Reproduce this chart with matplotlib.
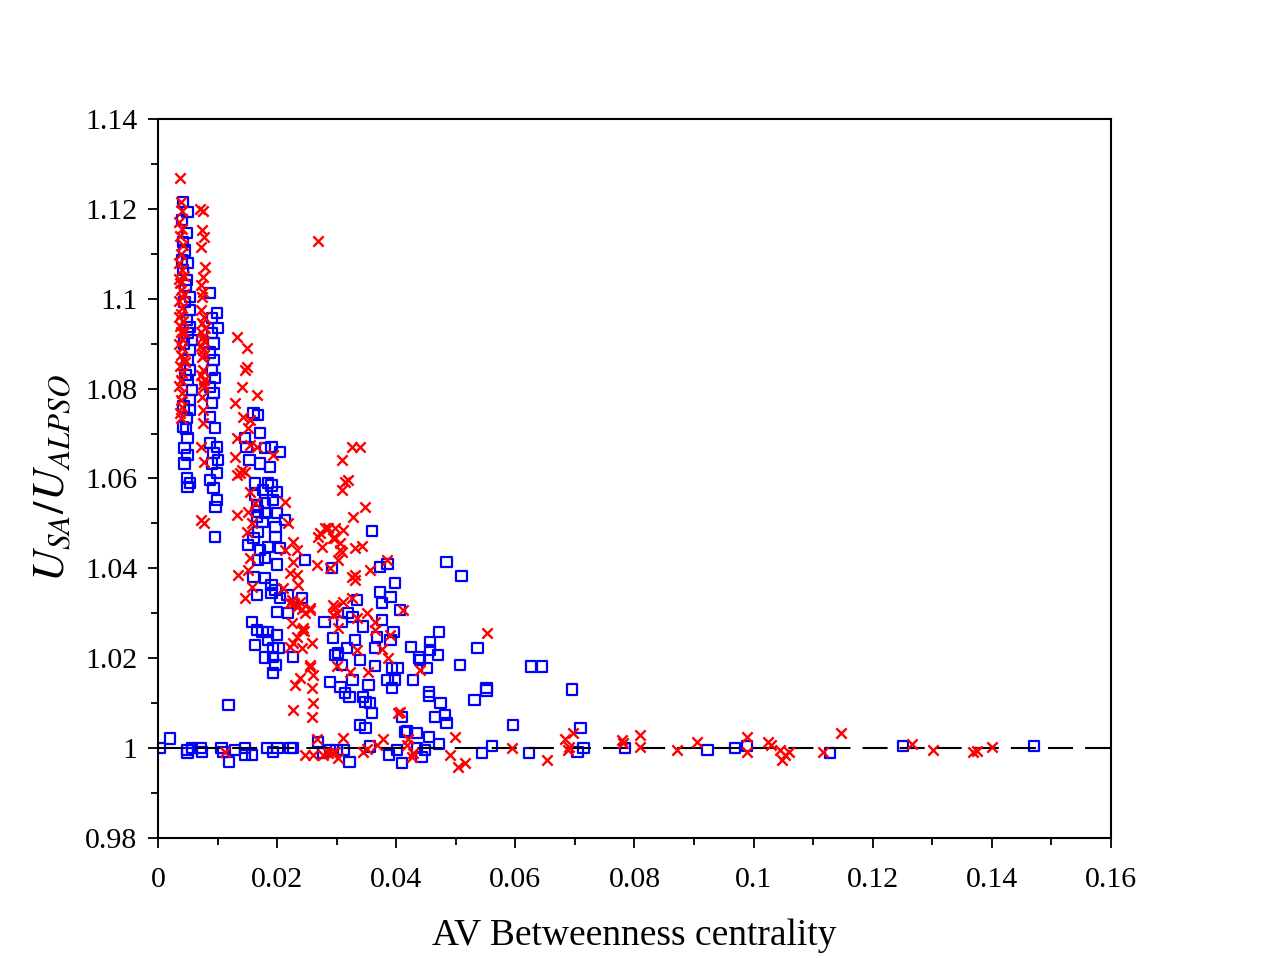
import numpy as np
import matplotlib
matplotlib.use('Agg')
import matplotlib.pyplot as plt
from matplotlib.ticker import MultipleLocator, FuncFormatter

plt.rcParams['font.family'] = ['Liberation Serif', 'DejaVu Serif']
plt.rcParams['mathtext.fontset'] = 'stix'

# red crosses (x = AV betweenness, y = U_SA/U_ALPSO)
red_col_a = [(0.0037,1.1268),(0.0038,1.1215),(0.0041,1.1195),(0.0036,1.1170),(0.0040,1.1155),(0.0037,1.1140),
             (0.0042,1.1120),(0.0038,1.1100),(0.0036,1.1080),(0.0040,1.1065),(0.0043,1.1050),(0.0035,1.1045),
             (0.0037,1.1035),(0.0039,1.1020),(0.0044,1.1010),(0.0041,1.1005),(0.0036,1.0995),(0.0040,1.0980),
             (0.0038,1.0965),(0.0035,1.0960),(0.0042,1.0950),(0.0037,1.0940),(0.0044,1.0925),(0.0039,1.0925),
             (0.0041,1.0910),(0.0036,1.0900),(0.0040,1.0890),(0.0038,1.0875),(0.0043,1.0865),(0.0045,1.0860),
             (0.0037,1.0850),(0.0040,1.0835),(0.0039,1.0820),(0.0036,1.0805),(0.0041,1.0790),(0.0038,1.0775),
             (0.0040,1.0760),(0.0037,1.0745),(0.0039,1.0735)]
red_col_b = [(0.0071,1.1200),(0.0076,1.1195),(0.0074,1.1153),(0.0077,1.1138),(0.0073,1.1115),(0.0079,1.1071),
             (0.0075,1.1048),(0.0073,1.1031),(0.0076,1.1015),(0.0074,1.1005),(0.0072,1.0975),(0.0077,1.0960),
             (0.0074,1.0945),(0.0079,1.0935),(0.0073,1.0925),(0.0076,1.0915),(0.0078,1.0905),(0.0072,1.0895),
             (0.0075,1.0885),(0.0077,1.0875),(0.0074,1.0870),(0.0076,1.0841),(0.0073,1.0830),(0.0078,1.0820),
             (0.0075,1.0810),(0.0077,1.0803),(0.0074,1.0781),(0.0076,1.0752),(0.0075,1.0723),(0.0073,1.0670),
             (0.0078,1.0637),(0.0072,1.0508),(0.0077,1.0502)]
red_col_c = [(0.0133,1.0915),(0.0149,1.0890),(0.0149,1.0848),(0.0146,1.0841),(0.0141,1.0804),(0.0166,1.0786),
             (0.0129,1.0768),(0.0143,1.0737),(0.0154,1.0730),(0.0151,1.0712),(0.0133,1.0690),(0.0154,1.0674),
             (0.0166,1.0670),(0.0129,1.0648),(0.0141,1.0619),(0.0133,1.0608),(0.0146,1.0614),(0.0138,1.0612),
             (0.0154,1.0570),(0.0163,1.0545),(0.0133,1.0519),(0.0151,1.0526),(0.0149,1.0481),(0.0158,1.0501),
             (0.0154,1.0423),(0.0134,1.0385),(0.0151,1.0396),(0.0158,1.0359),(0.0146,1.0334)]
red_col_d = [(0.0269,1.1128),(0.0193,1.0652),(0.0213,1.0548),(0.0218,1.0501),(0.0227,1.0459),(0.0213,1.0441),
             (0.0233,1.0441),(0.0227,1.0414),(0.0222,1.0390),(0.0233,1.0385),(0.0210,1.0356),(0.0235,1.0363),
             (0.0225,1.0329),(0.0229,1.0322),(0.0233,1.0315),(0.0238,1.0325),(0.0242,1.0310),(0.0247,1.0300),
             (0.0255,1.0312),(0.0222,1.0323),(0.0225,1.0278),(0.0243,1.0267),(0.0245,1.0260),(0.0233,1.0247),
             (0.0227,1.0234),(0.0259,1.0234),(0.0222,1.0225),(0.0242,1.0223),(0.0255,1.0181),(0.0260,1.0163),
             (0.0238,1.0156),(0.0230,1.0140),(0.0259,1.0134),(0.0260,1.0100),(0.0227,1.0085),(0.0259,1.0069),
             (0.0242,1.0263),(0.0255,1.0307),(0.0255,1.0185)]
red_col_e = [(0.0272,1.0479),(0.0280,1.0490),(0.0297,1.0490),(0.0275,1.0448),(0.0297,1.0468),(0.0306,1.0441),
             (0.0302,1.0419),(0.0267,1.0408),(0.0289,1.0401),(0.0309,1.0641),(0.0309,1.0574),(0.0326,1.0670),
             (0.0339,1.0670),(0.0319,1.0597),(0.0314,1.0592),(0.0348,1.0537),(0.0327,1.0514),(0.0285,1.0490),
             (0.0311,1.0485),(0.0269,1.0470),(0.0294,1.0468),(0.0306,1.0456),(0.0331,1.0445),(0.0343,1.0450),
             (0.0309,1.0436),(0.0385,1.0419),(0.0331,1.0385),(0.0331,1.0374),(0.0326,1.0380),(0.0356,1.0396),
             (0.0297,1.0314),(0.0311,1.0325),(0.0326,1.0334),(0.0294,1.0296),(0.0351,1.0301),(0.0302,1.0267),
             (0.0334,1.0290),(0.0364,1.0281),(0.0364,1.0263),(0.0411,1.0307),(0.0390,1.0252),(0.0334,1.0218),
             (0.0376,1.0221),(0.0386,1.0201),(0.0301,1.0183),(0.0322,1.0169),(0.0353,1.0169),(0.0440,1.0174),
             (0.0403,1.0078),(0.0552,1.0256),(0.0294,1.0318),(0.0301,1.0301)]
red_base = [(0.0113,0.9991),(0.0267,1.0021),(0.0247,0.9985),(0.0260,0.9985),(0.0277,0.9985),(0.0285,0.9989),
            (0.0292,0.9989),(0.0297,0.9991),(0.0302,0.9978),(0.0311,1.0022),(0.0344,0.9991),(0.0351,0.9998),
            (0.0368,1.0007),(0.0378,1.0021),(0.0418,1.0007),(0.0406,1.0080),(0.0499,1.0025),(0.0420,1.0021),
            (0.0490,0.9985),(0.0428,0.9989),(0.0427,0.9980),(0.0516,0.9967),(0.0504,0.9958),(0.0594,1.0000),
            (0.0653,0.9974),(0.0684,1.0021),(0.0697,1.0034),(0.0688,0.9996),(0.0690,1.0003),(0.0779,1.0018),
            (0.0781,1.0012),(0.0809,1.0029),(0.0809,1.0003),(0.0871,0.9996),(0.0905,1.0014),(0.0989,1.0025),
            (0.0989,0.9991),(0.1025,1.0014),(0.1030,1.0007),(0.1045,0.9996),(0.1052,0.9985),(0.1048,0.9974),
            (0.1060,0.9991),(0.1117,0.9991),(0.1147,1.0034),(0.1266,1.0009),(0.1302,0.9996),(0.1369,0.9991),
            (0.1375,0.9993),(0.1400,1.0003)]

# blue squares
blue_col_a = [(0.0042,1.1215),(0.0050,1.1193),(0.0040,1.1175),(0.0049,1.1146),(0.0042,1.1126),(0.0045,1.1108),
              (0.0040,1.1086),(0.0050,1.1080),(0.0042,1.1064),(0.0049,1.1042),(0.0046,1.1030),(0.0054,1.1004),
              (0.0045,1.0993),(0.0054,1.0975),(0.0049,1.0953),(0.0054,1.0937),(0.0050,1.0924),(0.0057,1.0908),
              (0.0044,1.0900),(0.0054,1.0886),(0.0050,1.0864),(0.0054,1.0841),(0.0046,1.0830),(0.0050,1.0819),
              (0.0057,1.0797),(0.0054,1.0775),(0.0043,1.0760),(0.0054,1.0752),(0.0049,1.0735),(0.0042,1.0715),
              (0.0047,1.0710),(0.0050,1.0690),(0.0045,1.0668),(0.0050,1.0652),(0.0045,1.0634),(0.0049,1.0601),
              (0.0054,1.0590),(0.0050,1.0581)]
blue_col_b = [(0.0087,1.1013),(0.0099,1.0968),(0.0091,1.0957),(0.0101,1.0935),(0.0091,1.0924),(0.0093,1.0901),
              (0.0087,1.0881),(0.0093,1.0864),(0.0091,1.0841),(0.0096,1.0824),(0.0087,1.0804),(0.0093,1.0790),
              (0.0091,1.0768),(0.0087,1.0737),(0.0096,1.0712),(0.0087,1.0679),(0.0099,1.0670),(0.0093,1.0657),
              (0.0101,1.0641),(0.0091,1.0634),(0.0099,1.0612),(0.0087,1.0597),(0.0093,1.0579),(0.0099,1.0552),
              (0.0097,1.0537),(0.0096,1.0470)]
blue_col_c = [(0.0160,1.0746),(0.0168,1.0741),(0.0171,1.0701),(0.0146,1.0690),(0.0149,1.0670),(0.0180,1.0668),
              (0.0191,1.0670),(0.0205,1.0659),(0.0154,1.0641),(0.0171,1.0634),(0.0188,1.0626),(0.0163,1.0590),
              (0.0185,1.0590),(0.0191,1.0585),(0.0176,1.0574),(0.0200,1.0570),(0.0163,1.0563),(0.0193,1.0552),
              (0.0180,1.0545),(0.0166,1.0541),(0.0168,1.0526),(0.0200,1.0523),(0.0180,1.0523),(0.0166,1.0514),
              (0.0213,1.0508),(0.0175,1.0503),(0.0197,1.0492),(0.0168,1.0481),(0.0197,1.0470),(0.0160,1.0468),
              (0.0151,1.0452),(0.0185,1.0448),(0.0171,1.0441),(0.0205,1.0445),(0.0180,1.0423),(0.0200,1.0408),
              (0.0168,1.0419),(0.0160,1.0381),(0.0180,1.0379),(0.0191,1.0363),(0.0197,1.0352),(0.0166,1.0341),
              (0.0191,1.0345),(0.0217,1.0341),(0.0205,1.0334),(0.0200,1.0303),(0.0218,1.0301),(0.0158,1.0281),
              (0.0166,1.0263),(0.0175,1.0258),(0.0185,1.0258),(0.0200,1.0252),(0.0163,1.0229),(0.0185,1.0241),
              (0.0193,1.0223),(0.0202,1.0223),(0.0180,1.0201),(0.0193,1.0203),(0.0197,1.0185),(0.0193,1.0167),
              (0.0227,1.0203),(0.0118,1.0096)]
blue_col_d = [(0.0247,1.0419),(0.0292,1.0401),(0.0242,1.0334),(0.0280,1.0281),(0.0294,1.0245),(0.0302,1.0212),
              (0.0289,1.0147),(0.0306,1.0136),(0.0359,1.0483),(0.0373,1.0403),(0.0385,1.0410),(0.0484,1.0414),
              (0.0510,1.0383),(0.0398,1.0367),(0.0373,1.0347),(0.0390,1.0336),(0.0376,1.0323),(0.0334,1.0330),
              (0.0406,1.0307),(0.0319,1.0301),(0.0309,1.0281),(0.0327,1.0292),(0.0376,1.0285),(0.0344,1.0270),
              (0.0395,1.0258),(0.0472,1.0258),(0.0331,1.0241),(0.0368,1.0247),(0.0457,1.0236),(0.0390,1.0241),
              (0.0317,1.0223),(0.0364,1.0223),(0.0425,1.0225),(0.0457,1.0218),(0.0297,1.0207),(0.0339,1.0196),
              (0.0440,1.0196),(0.0470,1.0207),(0.0507,1.0185),(0.0536,1.0223),(0.0309,1.0185),(0.0364,1.0183),
              (0.0393,1.0178),(0.0402,1.0178),(0.0452,1.0178),(0.0438,1.0201),(0.0327,1.0152),(0.0385,1.0152),
              (0.0398,1.0152),(0.0428,1.0152),(0.0353,1.0140),(0.0393,1.0134),(0.0314,1.0123),(0.0322,1.0114),
              (0.0344,1.0114),(0.0455,1.0125),(0.0455,1.0116),(0.0552,1.0134),(0.0552,1.0128),(0.0531,1.0107),
              (0.0348,1.0103),(0.0356,1.0100),(0.0474,1.0100),(0.0359,1.0078),(0.0410,1.0069),(0.0465,1.0069),
              (0.0482,1.0074),(0.0484,1.0056),(0.0626,1.0181),(0.0645,1.0181),(0.0695,1.0131),(0.0596,1.0051),
              (0.0709,1.0045),(0.0418,1.0038),(0.0435,1.0034),(0.0455,1.0025),(0.0339,1.0051),(0.0348,1.0045),
              (0.0415,1.0036)]
blue_base = [(0.0020,1.0021),(0.0003,1.0000),(0.0050,0.9996),(0.0050,0.9989),(0.0057,1.0000),(0.0074,0.9991),
             (0.0071,1.0000),(0.0107,1.0000),(0.0109,0.9991),(0.0119,0.9969),(0.0129,0.9996),(0.0146,1.0000),
             (0.0146,0.9985),(0.0158,0.9985),(0.0183,1.0000),(0.0193,0.9991),(0.0201,1.0000),(0.0222,1.0000),
             (0.0227,1.0000),(0.0269,1.0014),(0.0277,0.9989),(0.0289,0.9996),(0.0300,0.9996),(0.0311,0.9996),
             (0.0322,0.9969),(0.0356,1.0003),(0.0388,0.9985),(0.0401,0.9996),(0.0410,0.9967),(0.0472,1.0009),
             (0.0435,1.0000),(0.0448,0.9996),(0.0442,0.9980),(0.0561,1.0005),(0.0544,0.9989),(0.0623,0.9989),
             (0.0704,0.9991),(0.0714,1.0000),(0.0784,1.0000),(0.0923,0.9996),(0.0969,1.0000),(0.0989,1.0005),
             (0.1128,0.9989),(0.1251,1.0005),(0.1471,1.0005)]

red = np.array(red_col_a + red_col_b + red_col_c + red_col_d + red_col_e + red_base)
blue = np.array(blue_col_a + blue_col_b + blue_col_c + blue_col_d + blue_base)

fig = plt.figure(figsize=(12.71, 9.59), dpi=100)
ax = fig.add_axes([0.1243, 0.1262, 0.7498, 0.7497])

ax.scatter(blue[:, 0], blue[:, 1], marker='s', s=58, facecolors='none',
           edgecolors='#0000ff', linewidths=1.6, zorder=2)
ax.axhline(1.0, color='k', lw=1.5, dashes=(12, 5.8), zorder=3)
ax.scatter(red[:, 0], red[:, 1], marker='x', s=55, color='#ff0000',
           linewidths=1.7, zorder=4)

ax.set_xlim(0, 0.16)
ax.set_ylim(0.98, 1.14)
ax.xaxis.set_major_locator(MultipleLocator(0.02))
ax.xaxis.set_minor_locator(MultipleLocator(0.01))
ax.yaxis.set_major_locator(MultipleLocator(0.02))
ax.yaxis.set_minor_locator(MultipleLocator(0.01))
fmt = FuncFormatter(lambda v, p: '%g' % round(v, 4))
ax.xaxis.set_major_formatter(fmt)
ax.yaxis.set_major_formatter(fmt)
ax.tick_params(which='major', direction='out', length=7, width=1.3, labelsize=21.5,
               top=False, right=False)
ax.tick_params(axis='x', which='major', pad=14)
ax.tick_params(axis='y', which='major', pad=8)
ax.tick_params(which='minor', direction='out', length=5, width=1.3,
               top=False, right=False)
for sp in ax.spines.values():
    sp.set_linewidth(1.5)

ax.set_xlabel('AV Betweenness centrality', fontsize=27, labelpad=18)
ax.set_ylabel(r'$U_{SA}/U_{ALPSO}$', fontsize=32, labelpad=8)

fig.savefig('out.png', dpi=100)
